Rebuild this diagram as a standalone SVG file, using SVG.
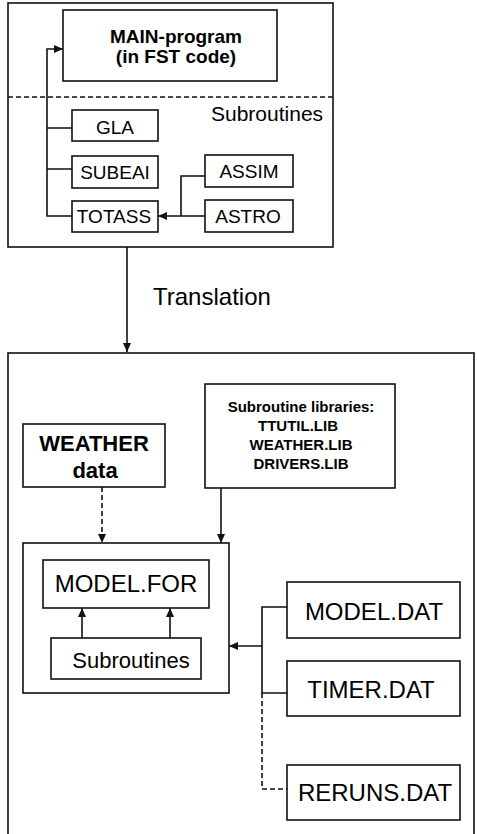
<svg xmlns="http://www.w3.org/2000/svg" width="477" height="834" viewBox="0 0 477 834">
<defs>
<style>
.box{fill:#fff;stroke:#111;stroke-width:1.6}
.ln{fill:none;stroke:#111;stroke-width:1.6}
.dash{fill:none;stroke:#111;stroke-width:1.6;stroke-dasharray:5,3}
.t{font-family:"Liberation Sans",Arial,sans-serif;fill:#000}
.b{font-weight:bold}
</style>
<marker id="ah" markerUnits="userSpaceOnUse" markerWidth="10" markerHeight="9" refX="9" refY="4" orient="auto">
<path d="M0,0 L9,4 L0,8 z" fill="#111"/>
</marker>
</defs>
<rect width="477" height="834" fill="#fff"/>
<g id="fst-frame">
<rect class="box" x="8" y="3" width="325" height="244"/>
<line class="dash" x1="8" y1="97" x2="333" y2="97"/>
<text class="t" x="211" y="121" font-size="21">Subroutines</text>
</g>
<g id="main">
<rect class="box" x="63" y="10" width="214" height="71"/>
<text class="t b" x="176" y="43" font-size="19" text-anchor="middle">MAIN-program</text>
<text class="t b" x="176" y="63" font-size="19" text-anchor="middle">(in FST code)</text>
</g>
<g id="gla">
<rect class="box" x="72" y="110" width="86" height="31"/>
<text class="t" x="115" y="134" font-size="19" text-anchor="middle">GLA</text>
</g>
<g id="subeai">
<rect class="box" x="72" y="156" width="86" height="32"/>
<text class="t" x="115" y="179" font-size="19" text-anchor="middle">SUBEAI</text>
</g>
<g id="totass">
<rect class="box" x="72" y="201" width="86" height="31"/>
<text class="t" x="114" y="223" font-size="19" text-anchor="middle">TOTASS</text>
</g>
<g id="assim">
<rect class="box" x="205" y="155" width="88" height="32"/>
<text class="t" x="249" y="178" font-size="19" text-anchor="middle">ASSIM</text>
</g>
<g id="astro">
<rect class="box" x="205" y="200" width="88" height="32"/>
<text class="t" x="248" y="223" font-size="19" text-anchor="middle">ASTRO</text>
</g>
<g id="translation-label">
<text class="t" x="153" y="305" font-size="24">Translation</text>
</g>
<g id="fortran-frame">
<rect class="box" x="8" y="353" width="466" height="495"/>
</g>
<g id="weather">
<rect class="box" x="23" y="424" width="142" height="63"/>
<text class="t b" x="94" y="451" font-size="22" text-anchor="middle">WEATHER</text>
<text class="t b" x="95" y="478" font-size="22" text-anchor="middle">data</text>
</g>
<g id="libraries">
<rect class="box" x="205" y="384" width="190" height="104"/>
<text class="t b" x="301" y="412" font-size="15" text-anchor="middle">Subroutine libraries:</text>
<text class="t b" x="298" y="431" font-size="15" text-anchor="middle">TTUTIL.LIB</text>
<text class="t b" x="301" y="450" font-size="15" text-anchor="middle">WEATHER.LIB</text>
<text class="t b" x="301" y="469" font-size="15" text-anchor="middle">DRIVERS.LIB</text>
</g>
<g id="model">
<rect class="box" x="23" y="543" width="206" height="150"/>
</g>
<g id="model-for">
<rect class="box" x="43" y="560" width="166" height="48"/>
<text class="t" x="126" y="592" font-size="24" text-anchor="middle">MODEL.FOR</text>
</g>
<g id="subroutines">
<rect class="box" x="51" y="638" width="150" height="41"/>
<text class="t" x="131" y="668" font-size="22" text-anchor="middle">Subroutines</text>
</g>
<g id="model-dat">
<rect class="box" x="287" y="582" width="173" height="56"/>
<text class="t" x="374" y="620" font-size="24" text-anchor="middle">MODEL.DAT</text>
</g>
<g id="timer-dat">
<rect class="box" x="287" y="661" width="173" height="55"/>
<text class="t" x="371" y="698" font-size="24" text-anchor="middle">TIMER.DAT</text>
</g>
<g id="reruns-dat">
<rect class="box" x="287" y="765" width="173" height="55"/>
<text class="t" x="375" y="801" font-size="24" text-anchor="middle">RERUNS.DAT</text>
</g>
<g id="connectors">
<path class="ln" d="M72 128 H47 M72 169 H47"/>
<path class="ln" d="M72 216 H47 V49 H63" marker-end="url(#ah)"/>
<path class="ln" d="M205 176 H181 V216"/>
<path class="ln" d="M205 216 H158" marker-end="url(#ah)"/>
<path class="ln" d="M127 247 V352" marker-end="url(#ah)"/>
<path class="dash" d="M102 487 V543" marker-end="url(#ah)"/>
<path class="ln" d="M221 488 V543" marker-end="url(#ah)"/>
<path class="ln" d="M82 638 V608" marker-end="url(#ah)"/>
<path class="ln" d="M170 638 V608" marker-end="url(#ah)"/>
<path class="ln" d="M287 607 H262 V693 H287"/>
<path class="dash" d="M262 693 V789 H287"/>
<path class="ln" d="M262 646 H229" marker-end="url(#ah)"/>
</g>
</svg>
